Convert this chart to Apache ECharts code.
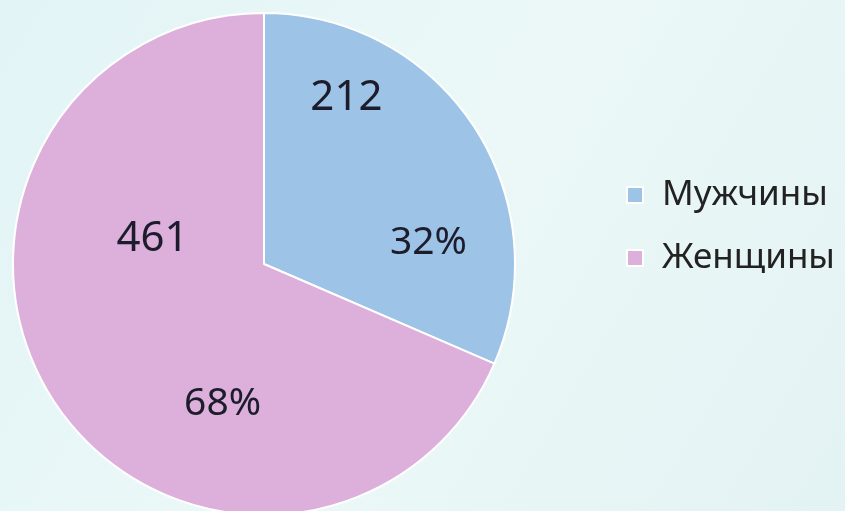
<!DOCTYPE html>
<html>
<head>
<meta charset="utf-8">
<script src="https://cdn.jsdelivr.net/npm/echarts@6/dist/echarts.min.js"></script>
<style>
  html, body { margin: 0; padding: 0; }
  #chart { width: 845px; height: 511px; }
</style>
</head>
<body>
<div id="chart"></div>
<script>
// chart data
const categories = ['Мужчины', 'Женщины'];
const counts = [212, 461];
const sliceColors = ['#9dc3e6', '#ddafdb'];

(function() {
  const total = counts.reduce((a, b) => a + b, 0);
  const pieData = categories.map((name, i) => ({ name: name, value: counts[i] }));

  // label nudges from the default "inside" spot
  const valueShift = [[-25, -95], [-4, -96]];
  const percentShift = [[57, 49], [66, 69]];

  const font = '"Noto Sans", "Open Sans", sans-serif';
  const pieCommon = {
    type: 'pie',
    center: [264, 264],
    radius: 251,
    startAngle: 90,
    clockwise: true,
    animation: false,
    labelLine: { show: false }
  };

  const chart = echarts.init(document.getElementById('chart'));
  chart.setOption({
    backgroundColor: {
      type: 'linear', x: 0, y: 0, x2: 1, y2: 1,
      colorStops: [
        { offset: 0, color: '#e2f4f6' },
        { offset: 0.5, color: '#ecf8f8' },
        { offset: 1, color: '#e3f2f3' }
      ]
    },
    color: sliceColors,
    legend: {
      orient: 'vertical',
      left: 621,
      top: 170,
      icon: 'rect',
      itemWidth: 16,
      itemHeight: 16,
      itemGap: 23,
      data: categories,
      textStyle: {
        fontFamily: font,
        fontSize: 35,
        lineHeight: 40,
        color: '#222',
        padding: [0, 0, 0, 14]
      }
    },
    series: [
      Object.assign({}, pieCommon, {
        name: 'count',
        data: pieData,
        itemStyle: { borderColor: '#ffffff', borderWidth: 2 },
        label: {
          show: true,
          position: 'inside',
          formatter: p => String(p.value),
          fontFamily: font,
          fontSize: 42,
          color: '#1c1c2c'
        },
        labelLayout: p => ({ dx: valueShift[p.dataIndex][0], dy: valueShift[p.dataIndex][1] })
      }),
      Object.assign({}, pieCommon, {
        name: 'percent',
        silent: true,
        data: pieData,
        itemStyle: { color: 'rgba(0,0,0,0)', borderWidth: 0 },
        label: {
          show: true,
          position: 'inside',
          formatter: p => Math.round(p.value / total * 100) + '%',
          fontFamily: font,
          fontSize: 39,
          color: '#1c1c2c'
        },
        labelLayout: p => ({ dx: percentShift[p.dataIndex][0], dy: percentShift[p.dataIndex][1] })
      })
    ]
  });
})();
</script>
</body>
</html>
